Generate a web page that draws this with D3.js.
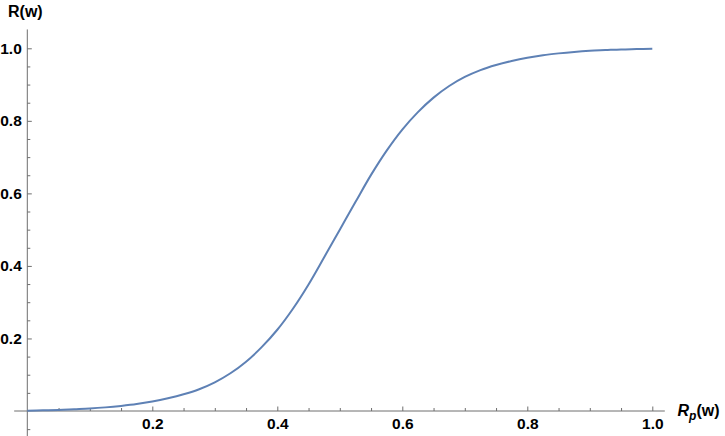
<!DOCTYPE html>
<html>
<head>
<meta charset="utf-8">
<script src="https://cdn.jsdelivr.net/npm/d3@7"></script>
<style>
  html, body { margin: 0; padding: 0; background: #fff; }
  svg { display: block; }
  text { font-family: "Liberation Sans", Arial, sans-serif; }
</style>
</head>
<body>
<svg id="chart" width="725" height="436"></svg>
<script>
// ---- data ----
const xValues = [0, 0.025, 0.05, 0.075, 0.1, 0.125, 0.15, 0.175, 0.2, 0.225, 0.25, 0.275, 0.3, 0.325, 0.35, 0.375,
                 0.4, 0.425, 0.45, 0.475, 0.5, 0.525, 0.55, 0.575, 0.6, 0.625, 0.65, 0.675, 0.7, 0.725, 0.75,
                 0.775, 0.8, 0.825, 0.85, 0.875, 0.9, 0.925, 0.95, 0.975, 1.0];
const rValues = [0.001, 0.002, 0.003, 0.005, 0.007, 0.010, 0.014, 0.019, 0.026, 0.035, 0.046, 0.060, 0.079, 0.104, 0.136, 0.176,
                 0.224, 0.282, 0.349, 0.424, 0.5, 0.576, 0.651, 0.718, 0.776, 0.824, 0.864, 0.896, 0.921, 0.940, 0.954,
                 0.965, 0.974, 0.981, 0.986, 0.990, 0.993, 0.995, 0.997, 0.998, 0.999];
const xMajorTicks = [0.2, 0.4, 0.6, 0.8, 1.0];
const xMinorTicks = [0.05, 0.1, 0.15, 0.25, 0.3, 0.35, 0.45, 0.5, 0.55, 0.65, 0.7, 0.75, 0.85, 0.9, 0.95];
const yMajorTicks = [0.2, 0.4, 0.6, 0.8, 1.0];
const yMinorTicks = [-0.05, 0.05, 0.1, 0.15, 0.25, 0.3, 0.35, 0.45, 0.5, 0.55, 0.65, 0.7, 0.75, 0.85, 0.9, 0.95];
const xAxisLabel = ["R", "p", "(w)"];
const yAxisLabel = "R(w)";

// ---- drawing ----
const svg = d3.select("#chart");
const x = d3.scaleLinear().domain([0, 1]).range([27.3, 652.3]);
const y = d3.scaleLinear().domain([0, 1]).range([411, 48.3]);
const axisColor = "#6e6e6e";

// axis lines (extended with plot padding)
svg.append("line")
  .attr("x1", x(-0.021)).attr("x2", x(1.02))
  .attr("y1", y(0)).attr("y2", y(0))
  .attr("stroke", axisColor).attr("stroke-width", 1);
svg.append("line")
  .attr("x1", x(0)).attr("x2", x(0))
  .attr("y1", y(1.052)).attr("y2", y(-0.07))
  .attr("stroke", axisColor).attr("stroke-width", 1);

function styleAxis(g) {
  g.select(".domain").remove();
  g.selectAll(".tick line").attr("stroke", axisColor);
  g.selectAll(".tick text")
    .attr("fill", "#000")
    .attr("font-size", "15.5px")
    .attr("font-weight", "bold")
    .attr("font-family", "'Liberation Sans', Arial, sans-serif");
}

// x axis
svg.append("g").attr("transform", `translate(0,${y(0)})`)
  .call(d3.axisBottom(x).tickValues(xMinorTicks).tickSizeInner(-3).tickSizeOuter(0).tickFormat(""))
  .call(styleAxis);
svg.append("g").attr("transform", `translate(0,${y(0)})`)
  .call(d3.axisBottom(x).tickValues(xMajorTicks).tickSizeInner(-4.5).tickSizeOuter(0)
        .tickPadding(6.5).tickFormat(d3.format(".1f")))
  .call(styleAxis);

// y axis
svg.append("g").attr("transform", `translate(${x(0)},0)`)
  .call(d3.axisLeft(y).tickValues(yMinorTicks).tickSizeInner(-3).tickSizeOuter(0).tickFormat(""))
  .call(styleAxis);
svg.append("g").attr("transform", `translate(${x(0)},0)`)
  .call(d3.axisLeft(y).tickValues(yMajorTicks).tickSizeInner(-4.5).tickSizeOuter(0)
        .tickPadding(5.5).tickFormat(d3.format(".1f")))
  .call(styleAxis);

// curve
const pts = xValues.map((v, i) => [v, rValues[i]]);
svg.append("path")
  .datum(pts)
  .attr("fill", "none")
  .attr("stroke", "#5E81B5")
  .attr("stroke-width", 2)
  .attr("stroke-linejoin", "round")
  .attr("d", d3.line().x(d => x(d[0])).y(d => y(d[1])).curve(d3.curveCatmullRom.alpha(0.5)));

// axis labels
svg.append("text")
  .attr("x", 8).attr("y", 16.5)
  .attr("font-size", "16px").attr("font-weight", "bold").attr("fill", "#000")
  .text(yAxisLabel);

const xl = svg.append("text")
  .attr("x", 677.5).attr("y", 415.5)
  .attr("font-size", "16px").attr("font-weight", "bold").attr("fill", "#000");
xl.append("tspan").attr("font-style", "italic").text(xAxisLabel[0]);
xl.append("tspan").attr("font-style", "italic").attr("font-size", "12px").attr("dy", 4.5).text(xAxisLabel[1]);
xl.append("tspan").attr("dy", -4.5).text(xAxisLabel[2]);
</script>
</body>
</html>
